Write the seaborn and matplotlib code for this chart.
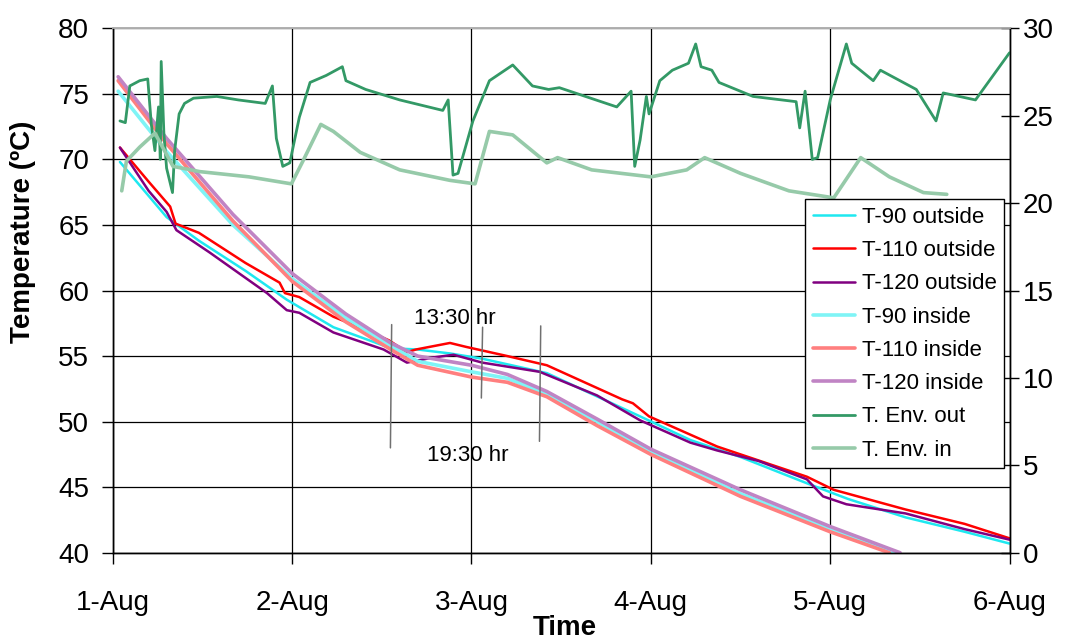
import matplotlib
matplotlib.use("Agg")
import matplotlib.pyplot as plt
import seaborn as sns

# days after 1-Aug, temperatures
t90_out_day = [0.04, 0.30, 0.48, 0.74, 0.97, 1.23, 1.55, 1.70, 1.88, 2.06, 2.42, 2.94, 3.22, 3.50, 3.87, 4.10, 4.42, 4.75, 5.00]
t90_out_val = [69.8, 65.6, 63.8, 61.5, 59.3, 57.2, 55.6, 55.5, 55.2, 54.8, 53.7, 50.4, 48.6, 47.3, 45.3, 44.1, 42.7, 41.6, 40.7]

t110_out_day = [0.04, 0.20, 0.32, 0.35, 0.48, 0.74, 0.93, 0.96, 1.04, 1.23, 1.41, 1.54, 1.64, 1.69, 1.88, 1.97, 2.20, 2.42, 2.84, 2.90, 2.99, 3.37, 3.87, 4.02, 4.42, 4.75, 5.00]
t110_out_val = [70.9, 68.3, 66.4, 65.1, 64.4, 62.1, 60.6, 59.8, 59.5, 58.0, 57.0, 56.2, 55.3, 55.5, 56.0, 55.7, 55.0, 54.3, 51.7, 51.4, 50.4, 48.1, 45.8, 44.8, 43.3, 42.2, 41.1]

t120_out_day = [0.04, 0.20, 0.30, 0.355, 0.54, 0.86, 0.97, 1.04, 1.23, 1.51, 1.64, 1.79, 1.90, 2.06, 2.38, 2.70, 2.94, 3.22, 3.37, 3.60, 3.87, 3.96, 4.09, 4.42, 4.75, 5.00]
t120_out_val = [70.9, 67.6, 66.0, 64.6, 62.9, 59.8, 58.5, 58.3, 56.8, 55.5, 54.5, 54.9, 55.1, 54.5, 53.8, 52.0, 50.1, 48.4, 47.8, 47.0, 45.6, 44.3, 43.7, 43.0, 41.8, 41.0]

t90_in_day = [0.03, 0.30, 0.67, 1.00, 1.30, 1.55, 1.70, 2.00, 2.20, 2.42, 2.70, 3.00, 3.50, 4.00, 4.36]
t90_in_val = [75.2, 70.6, 65.0, 60.9, 57.9, 55.8, 54.6, 53.8, 53.3, 52.1, 50.0, 47.7, 44.5, 41.8, 40.0]

t110_in_day = [0.03, 0.30, 0.67, 1.00, 1.30, 1.55, 1.70, 2.00, 2.20, 2.42, 2.70, 3.00, 3.50, 4.00, 4.33]
t110_in_val = [76.0, 71.2, 65.3, 60.7, 57.6, 55.5, 54.3, 53.4, 53.0, 51.9, 49.7, 47.5, 44.3, 41.6, 40.0]

t120_in_day = [0.03, 0.30, 0.67, 1.00, 1.30, 1.55, 1.70, 2.00, 2.20, 2.42, 2.70, 3.00, 3.50, 4.00, 4.39]
t120_in_val = [76.3, 71.6, 65.8, 61.3, 58.2, 56.0, 55.0, 54.3, 53.6, 52.3, 50.2, 47.9, 44.8, 42.0, 40.0]

# environment temperatures (right axis)
env_out_day = [0.04, 0.07, 0.095, 0.15, 0.195, 0.215, 0.235, 0.255, 0.265, 0.27, 0.285, 0.30, 0.333, 0.345, 0.37, 0.40, 0.45, 0.58,
               0.70, 0.85, 0.89, 0.912, 0.948, 0.987, 1.04, 1.10, 1.19, 1.28, 1.30, 1.41, 1.60, 1.84, 1.87, 1.897, 1.925, 2.008,
               2.10, 2.23, 2.34, 2.43, 2.49, 2.81, 2.89, 2.91, 2.94, 2.975, 2.99, 3.05, 3.12, 3.21, 3.25, 3.28, 3.34, 3.38, 3.57,
               3.81, 3.83, 3.86, 3.90, 3.93, 4.00, 4.09, 4.12, 4.24, 4.28, 4.48, 4.59, 4.63, 4.81, 5.00]
env_out_val = [24.7, 24.6, 26.7, 27.0, 27.1, 24.5, 23.0, 25.5, 22.5, 28.1, 24.0, 22.0, 20.6, 23.0, 25.1, 25.7, 26.0, 26.1,
               25.9, 25.7, 26.7, 23.7, 22.1, 22.3, 24.9, 26.9, 27.3, 27.8, 27.0, 26.5, 25.9, 25.3, 25.9, 21.6, 21.7, 24.7,
               27.0, 27.9, 26.7, 26.5, 26.6, 25.5, 26.4, 22.1, 23.6, 26.1, 25.1, 27.0, 27.6, 28.0, 29.1, 27.8, 27.6, 26.9, 26.1,
               25.8, 24.3, 26.4, 22.5, 22.6, 25.9, 29.1, 28.0, 27.0, 27.6, 26.5, 24.7, 26.3, 25.9, 28.6]

env_in_day = [0.05, 0.076, 0.15, 0.235, 0.336, 0.485, 0.76, 0.996, 1.06, 1.16, 1.23, 1.38, 1.60, 1.88, 2.02, 2.10, 2.23, 2.42,
              2.48, 2.67, 3.00, 3.20, 3.30, 3.50, 3.77, 4.02, 4.17, 4.33, 4.52, 4.65]
env_in_val = [20.7, 22.4, 23.2, 24.0, 22.1, 21.8, 21.5, 21.1, 22.4, 24.5, 24.1, 22.9, 21.9, 21.3, 21.1, 24.1, 23.9, 22.3,
              22.6, 21.9, 21.5, 21.9, 22.6, 21.7, 20.7, 20.3, 22.6, 21.5, 20.6, 20.5]

day_ticks = [0, 1, 2, 3, 4, 5]
day_labels = ["1-Aug", "2-Aug", "3-Aug", "4-Aug", "5-Aug", "6-Aug"]

# hand drawn marker lines (day, top, bottom) and their notes
mark_days = [1.555, 2.062, 2.386]
mark_tops = [57.4, 57.2, 57.3]
mark_bottoms = [48.0, 51.8, 48.5]
notes = ["13:30 hr", "19:30 hr"]
note_days = [1.906, 1.98]
note_vals = [57.9, 47.4]

sns.set_theme(style="white")
plt.rcParams['font.family'] = ['Liberation Sans', 'DejaVu Sans']
plt.rcParams['text.color'] = 'black'
plt.rcParams['axes.labelcolor'] = 'black'
plt.rcParams['xtick.color'] = 'black'
plt.rcParams['ytick.color'] = 'black'

fig, ax = plt.subplots(figsize=(10.74, 6.42), dpi=100)
fig.subplots_adjust(left=0.105, right=0.940, top=0.956, bottom=0.139)
ax2 = ax.twinx()

left_series = [
    ("T-90 outside", t90_out_day, t90_out_val, "#1ee8f0", 1.8),
    ("T-110 outside", t110_out_day, t110_out_val, "#ff0000", 1.8),
    ("T-120 outside", t120_out_day, t120_out_val, "#800080", 1.8),
    ("T-90 inside", t90_in_day, t90_in_val, "#7ff4f6", 2.6),
    ("T-110 inside", t110_in_day, t110_in_val, "#ff7f7f", 2.6),
    ("T-120 inside", t120_in_day, t120_in_val, "#c084c4", 2.6),
]
right_series = [
    ("T. Env. out", env_out_day, env_out_val, "#339966", 2.0),
    ("T. Env. in", env_in_day, env_in_val, "#96caa9", 2.6),
]

handles, labels = [], []
for axis, group in ((ax, left_series), (ax2, right_series)):
    for name, d, v, c, lw in group:
        n_before = len(axis.get_lines())
        sns.lineplot(x=d, y=v, ax=axis, color=c, linewidth=lw, estimator=None,
                     sort=False, legend=False)
        handles.append(axis.get_lines()[n_before])
        labels.append(name)

for d, top, bot in zip(mark_days, mark_tops, mark_bottoms):
    ax.plot([d, d - 0.007], [top, bot], color="#707070", lw=1.1)
for txt, d, v in zip(notes, note_days, note_vals):
    ax.text(d, v, txt, ha="center", va="center", fontsize=16, color="black")

ax.set_xlim(0, 5)
ax.set_ylim(40, 80)
ax.set_yticks(range(40, 81, 5))
ax.set_xticks(day_ticks)
ax.set_xticklabels(day_labels)
ax2.set_ylim(0, 30)
ax2.set_yticks(range(0, 31, 5))

ax.grid(True, color="black", linewidth=0.9)
ax2.grid(False)
ax.tick_params(axis="y", left=True, direction="out", length=8, width=1, pad=9, labelsize=20, color="black")
ax.tick_params(axis="x", bottom=True, direction="out", length=8, width=1, pad=19, labelsize=20, color="black")
ax2.tick_params(axis="y", right=True, direction="inout", length=13, width=1, pad=3, labelsize=20, color="black")

for a in (ax, ax2):
    for side in ("left", "right", "bottom"):
        a.spines[side].set_color("black")
        a.spines[side].set_linewidth(1.0)
    a.spines["top"].set_color("#b0b0b0")

ax.set_xlabel("Time", fontsize=20, fontweight="bold")
ax.xaxis.label.set_va("center")
ax.xaxis.set_label_coords(0.504, -0.143)
ax.set_ylabel("Temperature (ºC)", fontsize=20, fontweight="bold")
ax.yaxis.label.set_va("center")
ax.yaxis.set_label_coords(-0.100, 0.611)
ax2.set_ylabel("")

leg = ax2.legend(handles, labels, loc="upper right", bbox_to_anchor=(0.994, 0.674),
                 fontsize=16, frameon=True, fancybox=False, framealpha=1, edgecolor="black",
                 labelspacing=0.55, borderpad=0.35, handlelength=1.9, handletextpad=0.3,
                 borderaxespad=0)
leg.get_frame().set_linewidth(1.0)

fig.savefig("out.png", dpi=100)
